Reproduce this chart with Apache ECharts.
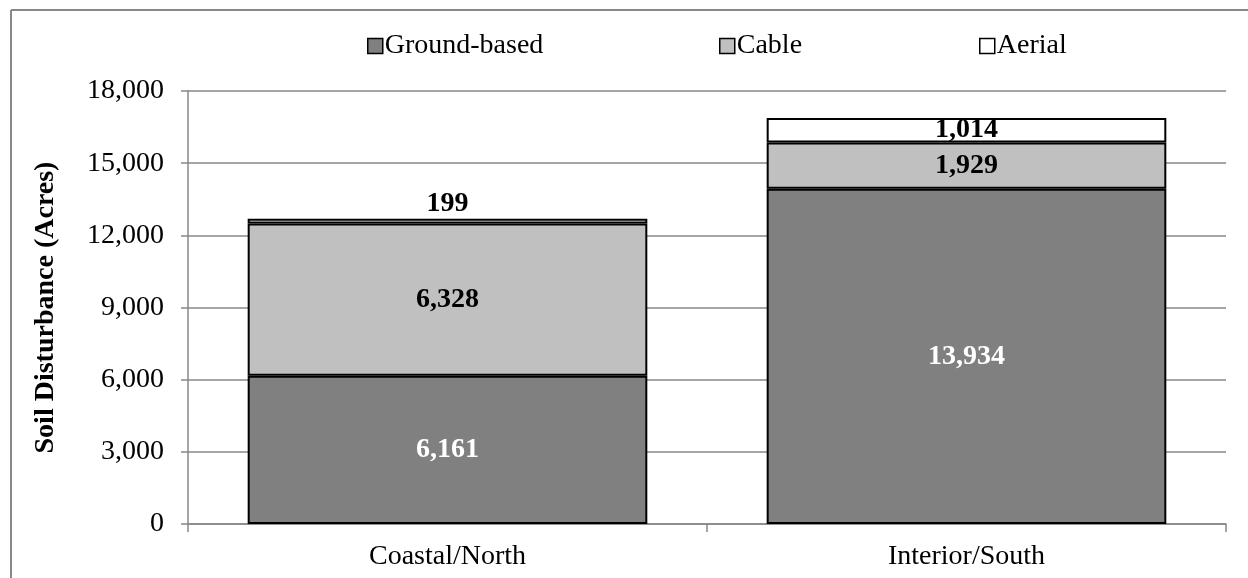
<!DOCTYPE html>
<html>
<head>
<meta charset="utf-8">
<script src="https://cdn.jsdelivr.net/npm/echarts@6/dist/echarts.min.js"></script>
<style>
  html, body { margin: 0; padding: 0; background: #fff; }
  #chart { width: 1248px; height: 578px; }
</style>
</head>
<body>
<div id="chart"></div>
<script>
// Soil disturbance by harvest system, per region (acres)
const regions = ['Coastal/North', 'Interior/South'];
const groundBased = [6161, 13934];
const cable = [6328, 1929];
const aerial = [199, 1014];
const yTicks = [0, 3000, 6000, 9000, 12000, 15000, 18000];

const FONT = 'Liberation Serif';
const fmt = v => v.toLocaleString('en-US');

const chart = echarts.init(document.getElementById('chart'));

const barBorder = { borderColor: '#000', borderWidth: 2 };
const labelBase = {
  show: true,
  fontFamily: FONT,
  fontSize: 28,
  fontWeight: 'bold',
  formatter: p => fmt(p.value)
};

function legendAt(name, left) {
  return {
    data: [name],
    left: left,
    top: 27,
    icon: 'rect',
    itemWidth: 15,
    itemHeight: 15,
    selectedMode: false,
    itemStyle: { borderColor: '#000', borderWidth: 1.5 },
    textStyle: { fontFamily: FONT, fontSize: 28, color: '#000', padding: [0, 0, 0, -3] }
  };
}

chart.setOption({
  animation: false,
  backgroundColor: '#fff',
  graphic: [
    { type: 'line', shape: { x1: 11, y1: 10, x2: 1248, y2: 10 }, style: { stroke: '#888', lineWidth: 2 } },
    { type: 'line', shape: { x1: 11, y1: 10, x2: 11, y2: 578 }, style: { stroke: '#888', lineWidth: 2 } }
  ],
  legend: [
    legendAt('Ground-based', 362),
    legendAt('Cable', 714),
    legendAt('Aerial', 974)
  ],
  grid: { left: 188, right: 22, top: 91, bottom: 54 },
  xAxis: {
    type: 'category',
    data: regions,
    axisLine: { lineStyle: { color: '#888', width: 1.5 } },
    axisTick: { show: true, length: 8, alignWithLabel: false, lineStyle: { color: '#888', width: 1.5 } },
    axisLabel: { fontFamily: FONT, fontSize: 28, color: '#000', margin: 19 }
  },
  yAxis: {
    type: 'value',
    min: yTicks[0],
    max: yTicks[yTicks.length - 1],
    interval: yTicks[1] - yTicks[0],
    name: 'Soil Disturbance (Acres)',
    nameLocation: 'middle',
    nameGap: 128,
    nameTextStyle: { fontFamily: FONT, fontSize: 28, fontWeight: 'bold', color: '#000' },
    axisLine: { show: true, lineStyle: { color: '#888', width: 1.5 } },
    axisTick: { show: true, length: 7, lineStyle: { color: '#888', width: 1.5 } },
    axisLabel: { fontFamily: FONT, fontSize: 28, color: '#000', margin: 24, formatter: v => fmt(v) },
    splitLine: { show: true, lineStyle: { color: '#888', width: 1.5 } }
  },
  series: [
    {
      name: 'Ground-based',
      type: 'bar',
      stack: 'total',
      barWidth: '77%',
      data: groundBased,
      itemStyle: Object.assign({ color: '#808080' }, barBorder),
      label: Object.assign({}, labelBase, { position: 'inside', color: '#fff' })
    },
    {
      name: 'Cable',
      type: 'bar',
      stack: 'total',
      data: cable,
      itemStyle: Object.assign({ color: '#C0C0C0' }, barBorder),
      label: Object.assign({}, labelBase, { position: 'inside', color: '#000' })
    },
    {
      name: 'Aerial',
      type: 'bar',
      stack: 'total',
      data: aerial.map((v, i) => ({
        value: v,
        // the thin Coastal/North segment carries its label above the bar
        label: i === 0 ? { position: 'top', distance: 1 } : { position: 'inside' }
      })),
      itemStyle: Object.assign({ color: '#FFFFFF' }, barBorder),
      label: Object.assign({}, labelBase, { color: '#000' })
    }
  ]
});
</script>
</body>
</html>
